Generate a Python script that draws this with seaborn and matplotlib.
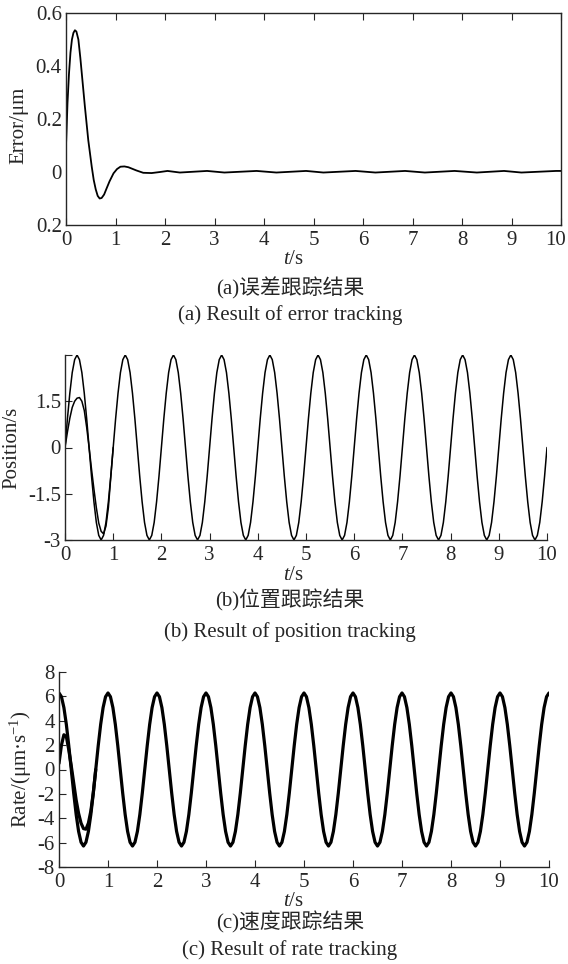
import numpy as np
import pandas as pd
import seaborn as sns
import matplotlib.pyplot as plt
from matplotlib.transforms import ScaledTranslation

# panel (a): tracking error
err_t = [0, 0.01, 0.03, 0.06, 0.09, 0.12, 0.15, 0.18, 0.21, 0.25, 0.29, 0.32, 0.38,
         0.45, 0.52, 0.56, 0.60, 0.64, 0.68, 0.72, 0.77, 0.82, 0.88, 0.96, 1.03,
         1.1, 1.18, 1.26, 1.34, 1.42, 1.56, 1.73, 1.9, 2.05, 2.3, 2.85,
         3.2, 3.85, 4.25, 4.85, 5.2, 5.85, 6.25, 6.85, 7.25, 7.85, 8.3, 8.85, 9.2,
         9.9, 10]
err_v = [0.1, 0.15, 0.26, 0.37, 0.45, 0.50, 0.525, 0.535, 0.53, 0.50, 0.43, 0.37, 0.25,
         0.12, 0.02, -0.03, -0.065, -0.09, -0.1, -0.098, -0.085, -0.062, -0.035,
         -0.005, 0.011, 0.02, 0.021, 0.018, 0.012, 0.006, -0.003, -0.004,
         0.0, 0.004, -0.002, 0.004, -0.002, 0.004, -0.002, 0.004, -0.002, 0.004,
         -0.002, 0.004, -0.002, 0.004, -0.002, 0.004, -0.002, 0.004, 0.004]

# panel (b): position, samples every 0.05 s
pos_cycle = [0, 0.93, 1.76, 2.43, 2.85, 3.0, 2.85, 2.43, 1.76, 0.93,
             0, -0.93, -1.76, -2.43, -2.85, -3.0, -2.85, -2.43, -1.76, -0.93]
pos_ref = pos_cycle * 10 + [0]
pos_start = [0, 0.5, 0.95, 1.3, 1.5, 1.6, 1.62, 1.5, 1.2, 0.65, 0.0, -0.7, -1.35,
             -1.95, -2.45, -2.72, -2.8, -2.55, -1.95, -0.95, 0]

# panel (c): rate, samples every 0.05 s
rate_cycle = [6.28, 5.97, 5.08, 3.69, 1.94, 0, -1.94, -3.69, -5.08, -5.97,
              -6.28, -5.97, -5.08, -3.69, -1.94, 0, 1.94, 3.69, 5.08, 5.97]
rate_ref = rate_cycle * 10 + [6.28]
rate_start = [0.5, 2.0, 2.85, 2.7, 1.6, 0.3, -1.1, -2.5, -3.6, -4.4, -4.85, -4.9,
              -4.4, -3.4, -1.9, 0.0]

t_grid = np.linspace(0, 10, 201)

sns.set_style("ticks")
plt.rcParams['font.family'] = ['Liberation Serif', 'Noto Sans CJK SC', 'DejaVu Sans']
plt.rcParams['mathtext.fontset'] = 'custom'
plt.rcParams['mathtext.rm'] = 'Liberation Serif'
plt.rcParams['mathtext.it'] = 'Liberation Serif:italic'
plt.rcParams['axes.linewidth'] = 1.0
plt.rcParams['axes.unicode_minus'] = False
fs = 15

fig = plt.figure(figsize=(5.68, 9.64), dpi=100)
W, H = 568, 964


def add_ax(x0, x1, y0, y1):
    return fig.add_axes([x0 / W, 1 - y1 / H, (x1 - x0) / W, (y1 - y0) / H])


# (a)
ax1 = add_ax(66, 561, 13, 225)
df_err = pd.DataFrame({'t': err_t, 'e': err_v})
sns.lineplot(data=df_err, x='t', y='e', color='black', lw=1.3, ax=ax1)
ax1.set_xlim(0, 10)
ax1.set_ylim(-0.2, 0.6)
ax1.set_xticks(range(11))
ax1.set_yticks([0.6, 0.4, 0.2, 0, -0.2])
ax1.set_yticklabels(['0.6', '0.4', '0.2', '0', '0.2'])
ax1.tick_params(axis='x', direction='in', top=True, length=5, width=0.8, labelsize=fs, pad=4)
ax1.tick_params(axis='y', length=0, labelsize=fs, pad=3)
ax1.set_xlabel('')
ax1.set_ylabel('Error/μm', fontsize=fs)
ax1.yaxis.set_label_coords(-0.075, 0.47)
# the last x label sits a little left of its tick, as in the original
last = ax1.get_xticklabels()[-1]
last.set_transform(last.get_transform() + ScaledTranslation(-5 / 100, 0, fig.dpi_scale_trans))

# (b)
ax2 = add_ax(65, 547, 355, 540)
df_pos = pd.DataFrame({'t': t_grid, 'ref': pos_ref})
df_pos0 = pd.DataFrame({'t': t_grid[:len(pos_start)], 'p': pos_start})
sns.lineplot(data=df_pos, x='t', y='ref', color='black', lw=1.1, ax=ax2)
sns.lineplot(data=df_pos0, x='t', y='p', color='black', lw=1.1, ax=ax2)
ax2.set_xlim(0, 10)
ax2.set_ylim(-3, 3)
ax2.set_xticks(range(11))
ax2.set_yticks([3, 1.5, 0, -1.5, -3])
ax2.set_yticklabels(['', '1.5', '0', '-1.5', '-3'])
ax2.tick_params(direction='in', length=5, width=0.8, labelsize=fs, pad=3)
ax2.tick_params(axis='x', pad=4)
sns.despine(ax=ax2)
ax2.set_xlabel('')
ax2.set_ylabel('Position/s', fontsize=fs)
ax2.yaxis.set_label_coords(-0.09, 0.5)

# (c)
ax3 = add_ax(59, 549, 672, 867)
df_rate = pd.DataFrame({'t': t_grid, 'ref': rate_ref})
df_rate0 = pd.DataFrame({'t': t_grid[:len(rate_start)], 'r': rate_start})
sns.lineplot(data=df_rate, x='t', y='ref', color='black', lw=2.3, ax=ax3)
sns.lineplot(data=df_rate0, x='t', y='r', color='black', lw=2.3, ax=ax3)
ax3.set_xlim(0, 10)
ax3.set_ylim(-8, 8)
ax3.set_xticks(range(11))
ax3.set_yticks(range(-8, 9, 2))
ax3.tick_params(direction='in', length=5, width=0.8, labelsize=fs, pad=3)
ax3.tick_params(axis='x', pad=4)
sns.despine(ax=ax3)
ax3.set_xlabel('')
ax3.set_ylabel('Rate/(μm·s$^{-1}$)', fontsize=fs)
ax3.yaxis.set_label_coords(-0.05, 0.5)

# captions under each panel
captions = [
    (260, 288, 315, '(a)误差跟踪结果', '(a) Result of error tracking'),
    (575, 600, 632, '(b)位置跟踪结果', '(b) Result of position tracking'),
    (901, 922, 950, '(c)速度跟踪结果', '(c) Result of rate tracking'),
]
for y_t, y_cn, y_en, cn, en in captions:
    fig.text(293 / W, 1 - y_t / H, r'$\mathit{t}$/s', ha='center', va='center', fontsize=fs)
    fig.text(290 / W, 1 - y_cn / H, cn, ha='center', va='center', fontsize=fs)
    fig.text(290 / W, 1 - y_en / H, en, ha='center', va='center', fontsize=fs)

fig.savefig('out.png', dpi=100)
